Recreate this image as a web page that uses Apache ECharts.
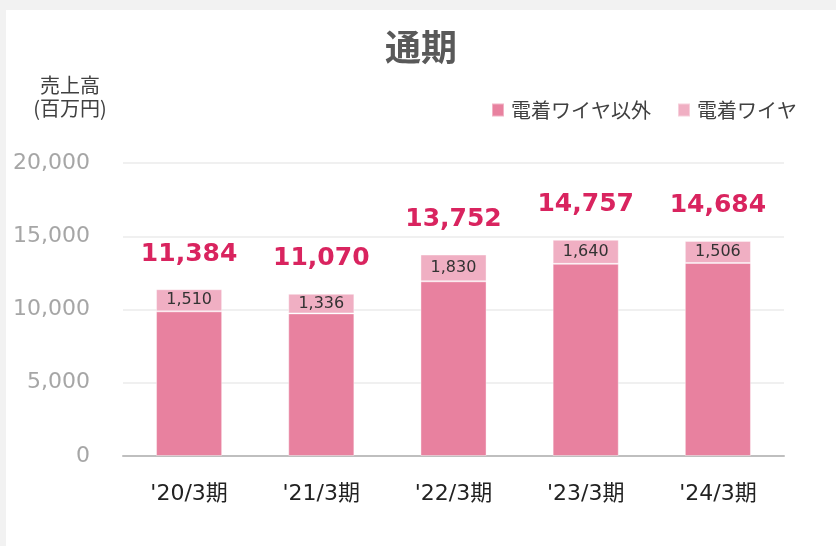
<!DOCTYPE html>
<html>
<head>
<meta charset="utf-8">
<script src="https://cdn.jsdelivr.net/npm/echarts@6/dist/echarts.min.js"></script>
<style>
  html, body { margin: 0; padding: 0; background: #f2f2f2; }
  #chart {
    position: absolute;
    left: 6px;
    top: 10px;
    width: 830px;
    height: 536px;
    background: #ffffff;
  }
</style>
</head>
<body>
<div id="chart"></div>
<script>
// 決算期
const categories = ["'20/3期", "'21/3期", "'22/3期", "'23/3期", "'24/3期"]
// 電着ワイヤ以外 (百万円)
const otherValues = [9874, 9734, 11922, 13117, 13178]
// 電着ワイヤ (百万円)
const wireValues = [1510, 1336, 1830, 1640, 1506]
// 合計
const totals = [11384, 11070, 13752, 14757, 14684]
const yTicks = [0, 5000, 10000, 15000, 20000]

const fontNum = '"DejaVu Sans", "Noto Sans CJK JP", sans-serif'
const fontJp = '"Noto Sans CJK JP", "DejaVu Sans", sans-serif'

let myChart = echarts.init(document.getElementById('chart'))

let option = {
  animation: false,
  title: {
    text: '通期',
    left: 'center',
    top: 14,
    textStyle: {
      fontFamily: fontJp,
      fontSize: 36,
      fontWeight: 'bold',
      color: '#595959'
    }
  },
  graphic: [
    {
      type: 'text',
      x: 64,
      y: 75,
      style: {
        text: '売上高',
        align: 'center',
        verticalAlign: 'middle',
        fontFamily: fontJp,
        fontSize: 20,
        fill: '#404040'
      }
    },
    {
      type: 'text',
      x: 64,
      y: 98,
      style: {
        text: '(百万円)',
        align: 'center',
        verticalAlign: 'middle',
        fontFamily: fontJp,
        fontSize: 20,
        fill: '#404040'
      }
    }
  ],
  legend: {
    data: ['電着ワイヤ以外', '電着ワイヤ'],
    left: 480,
    top: 85,
    itemWidth: 12,
    itemHeight: 13,
    itemGap: 26,
    icon: 'rect',
    textStyle: {
      fontFamily: fontJp,
      fontSize: 20,
      color: '#404040',
      padding: [0, 0, 0, 2]
    }
  },
  grid: {
    left: 117,
    right: 52,
    top: 153,
    bottom: 90
  },
  xAxis: {
    type: 'category',
    data: categories,
    axisTick: { show: false },
    axisLine: { lineStyle: { color: '#bfbfbf', width: 2 } },
    axisLabel: {
      margin: 27,
      fontFamily: fontNum,
      fontSize: 22,
      color: '#222222'
    }
  },
  yAxis: {
    type: 'value',
    min: yTicks[0],
    max: yTicks[yTicks.length - 1],
    interval: 5000,
    axisLine: { show: false },
    axisTick: { show: false },
    splitLine: { lineStyle: { color: '#ebebeb', width: 1.5 } },
    axisLabel: {
      margin: 33,
      fontFamily: fontNum,
      fontSize: 22,
      color: '#a6a6a6',
      formatter: v => v.toLocaleString('en-US')
    }
  },
  series: [
    {
      name: '電着ワイヤ以外',
      type: 'bar',
      stack: 'total',
      barWidth: '50%',
      data: otherValues,
      itemStyle: {
        color: '#e8819f',
        borderColor: 'rgba(255,255,255,0.4)',
        borderWidth: 1
      }
    },
    {
      name: '電着ワイヤ',
      type: 'bar',
      stack: 'total',
      barWidth: '50%',
      data: wireValues,
      itemStyle: {
        color: '#f0afc3',
        borderColor: 'rgba(255,255,255,0.4)',
        borderWidth: 1
      },
      label: {
        show: true,
        position: 'inside',
        fontFamily: fontNum,
        fontSize: 16,
        color: '#333333',
        formatter: p => p.value.toLocaleString('en-US')
      }
    },
    {
      name: '合計',
      type: 'line',
      data: totals,
      symbol: 'circle',
      symbolSize: 1,
      showSymbol: true,
      itemStyle: { color: 'rgba(0,0,0,0)' },
      lineStyle: { opacity: 0 },
      silent: true,
      label: {
        show: true,
        position: 'top',
        distance: 22,
        fontFamily: fontNum,
        fontSize: 25,
        fontWeight: 'bold',
        color: '#d9245f',
        formatter: p => p.value.toLocaleString('en-US')
      }
    }
  ]
}

myChart.setOption(option)
</script>
</body>
</html>
